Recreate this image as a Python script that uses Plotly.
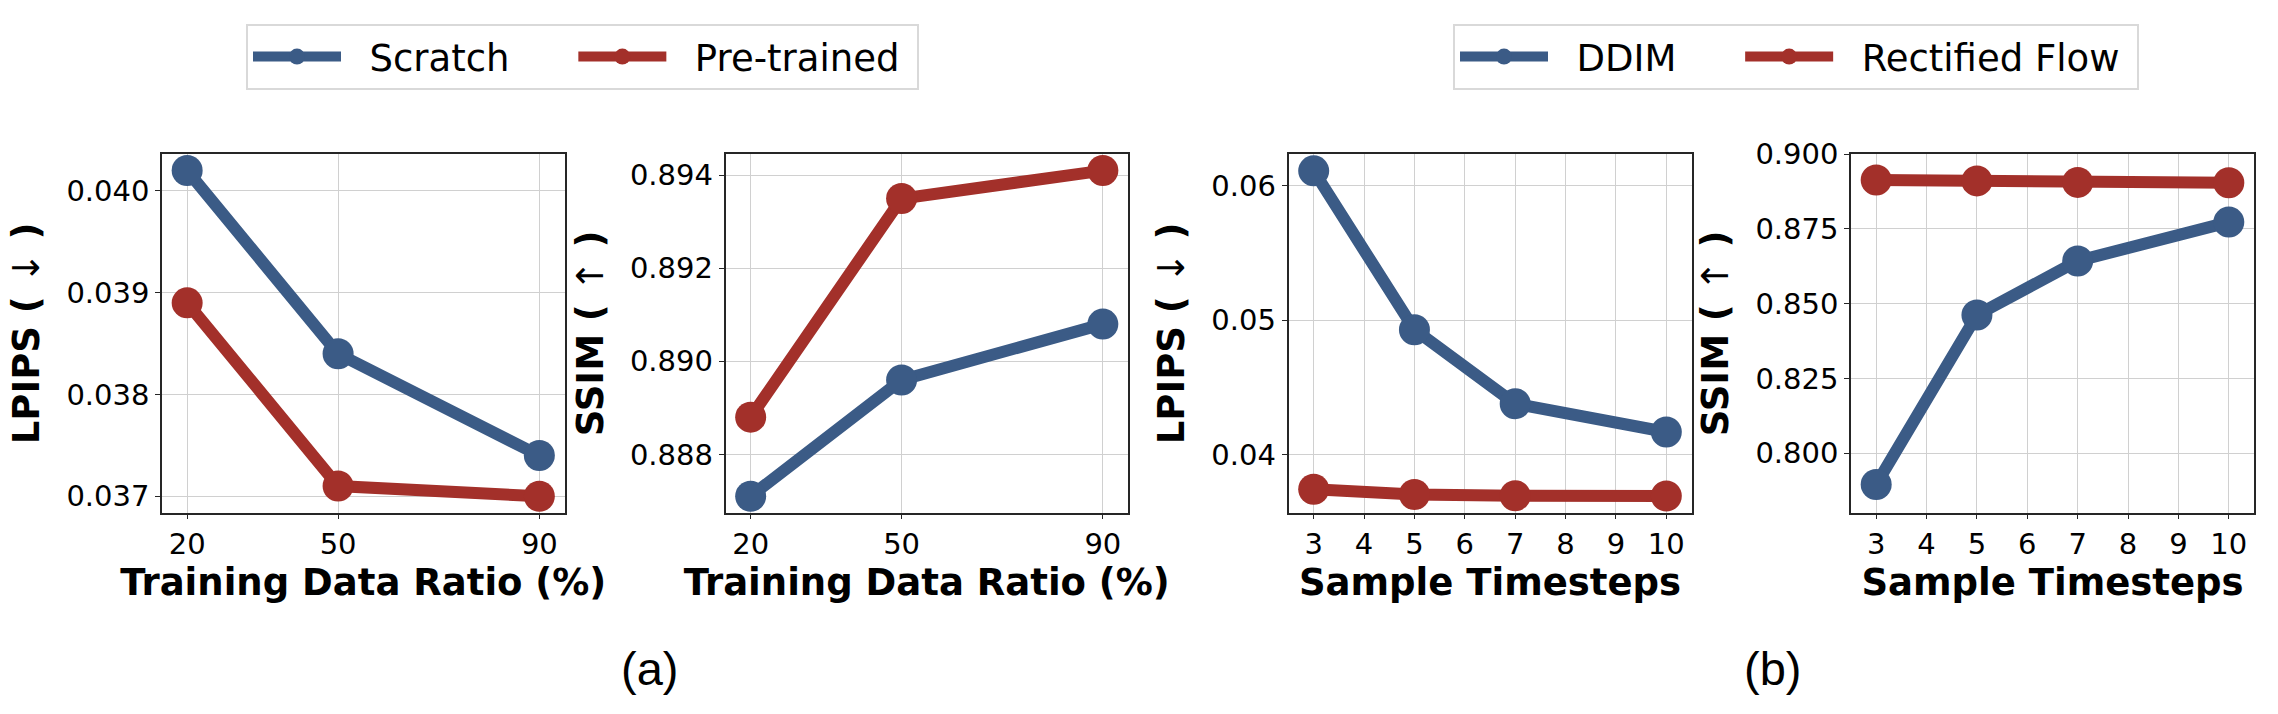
import plotly.graph_objects as go

# ---------------- data ----------------
ratio = [20, 50, 90]
lpips_scratch = [0.0402, 0.0384, 0.0374]
lpips_pretrained = [0.0389, 0.0371, 0.0370]
ssim_scratch = [0.8871, 0.8896, 0.8908]
ssim_pretrained = [0.8888, 0.8935, 0.8941]

steps = [3, 5, 7, 10]
lpips_ddim = [0.0611, 0.0493, 0.0438, 0.0417]
lpips_rf = [0.03745, 0.03706, 0.03697, 0.03695]
ssim_ddim = [0.7895, 0.8462, 0.8643, 0.8773]
ssim_rf = [0.8914, 0.8911, 0.8906, 0.8905]

ratio_ticks = [20, 50, 90]
step_ticks = [3, 4, 5, 6, 7, 8, 9, 10]

BLUE = "#3b5b86"
RED = "#a3302a"
W, H = 2278, 714
NB = "\u00a0"

fig = go.Figure()

def add(x, y, name, color, xa, ya, legend, show):
    fig.add_trace(go.Scatter(
        x=x, y=y, name=name, mode="lines+markers",
        line=dict(color=color, width=12),
        marker=dict(color=color, size=31),
        xaxis=xa, yaxis=ya, legend=legend, showlegend=show,
    ))

add(ratio, lpips_scratch, NB * 2 + "Scratch" + NB * 5, BLUE, "x", "y", "legend", True)
add(ratio, lpips_pretrained, NB * 2 + "Pre-trained" + NB, RED, "x", "y", "legend", True)
add(ratio, ssim_scratch, "Scratch", BLUE, "x2", "y2", "legend", False)
add(ratio, ssim_pretrained, "Pre-trained", RED, "x2", "y2", "legend", False)
add(steps, lpips_ddim, NB * 2 + "DDIM" + NB * 5, BLUE, "x3", "y3", "legend2", True)
add(steps, lpips_rf, NB * 2 + "Rectified Flow" + NB, RED, "x3", "y3", "legend2", True)
add(steps, ssim_ddim, "DDIM", BLUE, "x4", "y4", "legend2", False)
add(steps, ssim_rf, "Rectified Flow", RED, "x4", "y4", "legend2", False)

# subplot boxes (pixels)
xdom = [(162, 564.5), (725.5, 1128), (1288.5, 1691.5), (1851, 2254)]
ytop, ybot = 154.3, 512.5
ydom = [(H - ybot) / H, (H - ytop) / H]

tickfont = dict(family="DejaVu Sans", size=29, color="black")
titlefont = dict(family="DejaVu Sans", size=37, color="black", weight="bold")

common = dict(showline=True, mirror=True, linecolor="#262626", linewidth=1.5,
              ticks="outside", ticklen=5, tickwidth=1.3, tickcolor="#262626",
              showgrid=True, gridcolor="#d0d0d0", gridwidth=1.2, zeroline=False,
              tickfont=tickfont, automargin=False)

def xt(t):
    return dict(text=t, font=titlefont, standoff=0)

DOWN = "<span style='font-weight:normal'>↓</span>"
UP = "<span style='font-weight:normal'>↑</span>"

xcfg = [
    dict(range=[15, 95], tickvals=ratio_ticks, title=xt("Training Data Ratio (%)")),
    dict(range=[15, 95], tickvals=ratio_ticks, title=xt("Training Data Ratio (%)")),
    dict(range=[2.5, 10.5], tickvals=step_ticks, title=xt("Sample Timesteps")),
    dict(range=[2.5, 10.5], tickvals=step_ticks, title=xt("Sample Timesteps")),
]
ycfg = [
    dict(range=[0.03684, 0.04036], tickvals=[0.037, 0.038, 0.039, 0.040], tickformat=".3f",
         title=dict(text="LPIPS ( " + DOWN + " )", font=titlefont)),
    dict(range=[0.88675, 0.89445], tickvals=[0.888, 0.890, 0.892, 0.894], tickformat=".3f",
         title=dict(text="SSIM ( " + UP + " )", font=titlefont)),
    dict(range=[0.03572, 0.06233], tickvals=[0.04, 0.05, 0.06], tickformat=".2f",
         title=dict(text="LPIPS ( " + DOWN + " )", font=titlefont)),
    dict(range=[0.7801, 0.900], tickvals=[0.800, 0.825, 0.850, 0.875, 0.900], tickformat=".3f",
         title=dict(text="SSIM ( " + UP + " )", font=titlefont)),
]

legend_common = dict(y=1 - 24 / H, xanchor="left", yanchor="top", orientation="h",
                     bordercolor="#d9d9d9", borderwidth=2, bgcolor="white", itemwidth=88,
                     font=dict(family="DejaVu Sans", size=37, color="black"))

layout = dict(
    width=W, height=H, margin=dict(l=0, r=0, t=0, b=0),
    plot_bgcolor="white", paper_bgcolor="white",
    legend=dict(x=246 / W, **legend_common),
    legend2=dict(x=1453 / W, **legend_common),
)
for i in range(4):
    sfx = "" if i == 0 else str(i + 1)
    layout["xaxis" + sfx] = dict(domain=[xdom[i][0] / W, xdom[i][1] / W], anchor="y" + sfx, **common, **xcfg[i])
    layout["yaxis" + sfx] = dict(domain=ydom, anchor="x" + sfx, **common, **ycfg[i])

fig.update_layout(**layout)

for txt, cx in [("(a)", 649), ("(b)", 1772)]:
    fig.add_annotation(text=txt, x=cx / W, y=1 - 668 / H, xref="paper", yref="paper",
                       xanchor="center", yanchor="middle", showarrow=False,
                       font=dict(family="Liberation Sans, Arial", size=47, color="black"))

fig.write_html("out.html")
